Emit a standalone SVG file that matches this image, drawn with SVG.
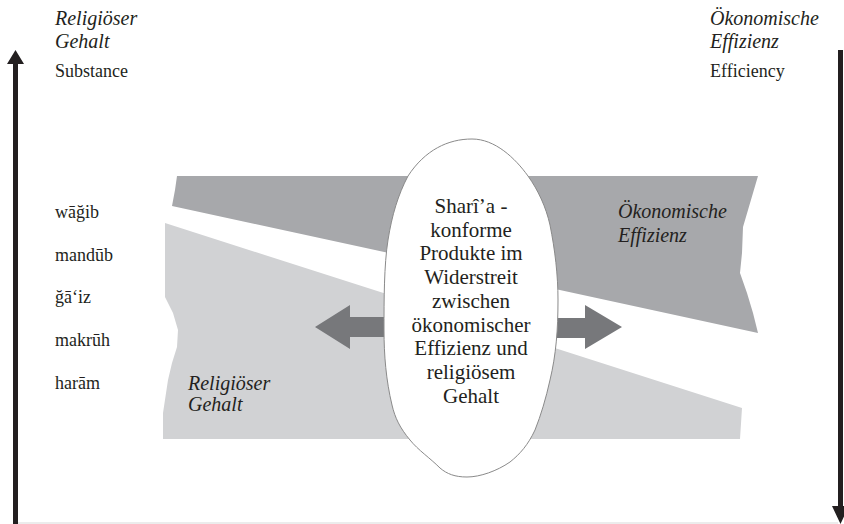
<svg xmlns="http://www.w3.org/2000/svg" width="844" height="524" viewBox="0 0 844 524">
<style>
.it{font-style:italic;font-size:20px;fill:#231f20}
.rg{font-size:18px;fill:#231f20}
.ct{font-size:21px;text-anchor:middle;fill:#231f20}
.axis{fill:#231f20}
.garrow{fill:#77787b}
</style>
<rect width="844" height="524" fill="#ffffff"/>
<g id="bands">
<path id="dark-band" d="M177 176 L758 176 L753 193 L743 227 L742 253 L740 273 L747 293 L753 313 L758 333 L172 206 L175 190 Z" fill="#a7a8ab"/>
<path id="light-band" d="M165 223 L742 408 L740 439 L163 439 L163 413 L168 380 L172 363 L177 347 L178 330 L173 313 L165 297 Z" fill="#d1d2d4"/>
</g>
<g id="connectors">
<path id="axis-left" class="axis" d="M13 524 L13 64 L7 64 L15.5 50 L24 64 L18 64 L18 524 Z"/>
<path id="axis-right" class="axis" d="M838 50 L843 50 L843 506 L849 506 L840.5 524 L832 506 L838 506 Z"/>
<path id="arrow-left" class="garrow" d="M390 317 L350 317 L350 305 L315 327 L350 349 L350 337 L390 337 Z"/>
<path id="arrow-right" class="garrow" d="M550 318 L585 318 L585 305 L622 327 L585 349 L585 338 L550 338 Z"/>
<line x1="18" y1="523" x2="838" y2="523" stroke="#e6e6e6" stroke-width="1.5"/>
</g>
<g id="center-node" font-family="Liberation Serif, DejaVu Serif, serif">
<path d="M472 139 C495 139 515 158 528 176 C538 190 546 207 550 225 C555 250 558 275 558 300 C558 330 556 355 550 380 C546 398 541 415 535 430 C528 445 520 454 510 462 C497 471 480 477 467 477 C455 477 447 474 440 468 C430 458 418 450 410 440 C400 428 395 418 392 405 C386 380 384 355 384 330 C384 300 384 265 388 240 C392 215 398 195 408 176 C425 150 448 139 472 139 Z" fill="#ffffff" stroke="#8a8a8a" stroke-width="1"/>
<text class="ct" x="471" y="213">Sharî’a -</text>
<text class="ct" x="471" y="237">konforme</text>
<text class="ct" x="471" y="260">Produkte im</text>
<text class="ct" x="471" y="284">Widerstreit</text>
<text class="ct" x="471" y="308">zwischen</text>
<text class="ct" x="471" y="332">ökonomischer</text>
<text class="ct" x="471" y="355">Effizienz und</text>
<text class="ct" x="471" y="379">religiösem</text>
<text class="ct" x="471" y="403">Gehalt</text>
</g>
<g id="top-left-label" font-family="Liberation Serif, DejaVu Serif, serif">
<text class="it" x="55" y="25">Religiöser</text>
<text class="it" x="55" y="48">Gehalt</text>
<text class="rg" x="55" y="77">Substance</text>
</g>
<g id="top-right-label" font-family="Liberation Serif, DejaVu Serif, serif">
<text class="it" x="710" y="25">Ökonomische</text>
<text class="it" x="710" y="48">Effizienz</text>
<text class="rg" x="710" y="77">Efficiency</text>
</g>
<g id="scale-labels" font-family="Liberation Serif, DejaVu Serif, serif">
<text class="rg" x="55" y="218">wāğib</text>
<text class="rg" x="55" y="261">mandūb</text>
<text class="rg" x="55" y="303">ğā‘iz</text>
<text class="rg" x="55" y="346">makrūh</text>
<text class="rg" x="55" y="389">harām</text>
</g>
<g id="band-label-dark" font-family="Liberation Serif, DejaVu Serif, serif">
<text class="it" x="618" y="218">Ökonomische</text>
<text class="it" x="618" y="242">Effizienz</text>
</g>
<g id="band-label-light" font-family="Liberation Serif, DejaVu Serif, serif">
<text class="it" x="188" y="390">Religiöser</text>
<text class="it" x="188" y="411">Gehalt</text>
</g>
</svg>
